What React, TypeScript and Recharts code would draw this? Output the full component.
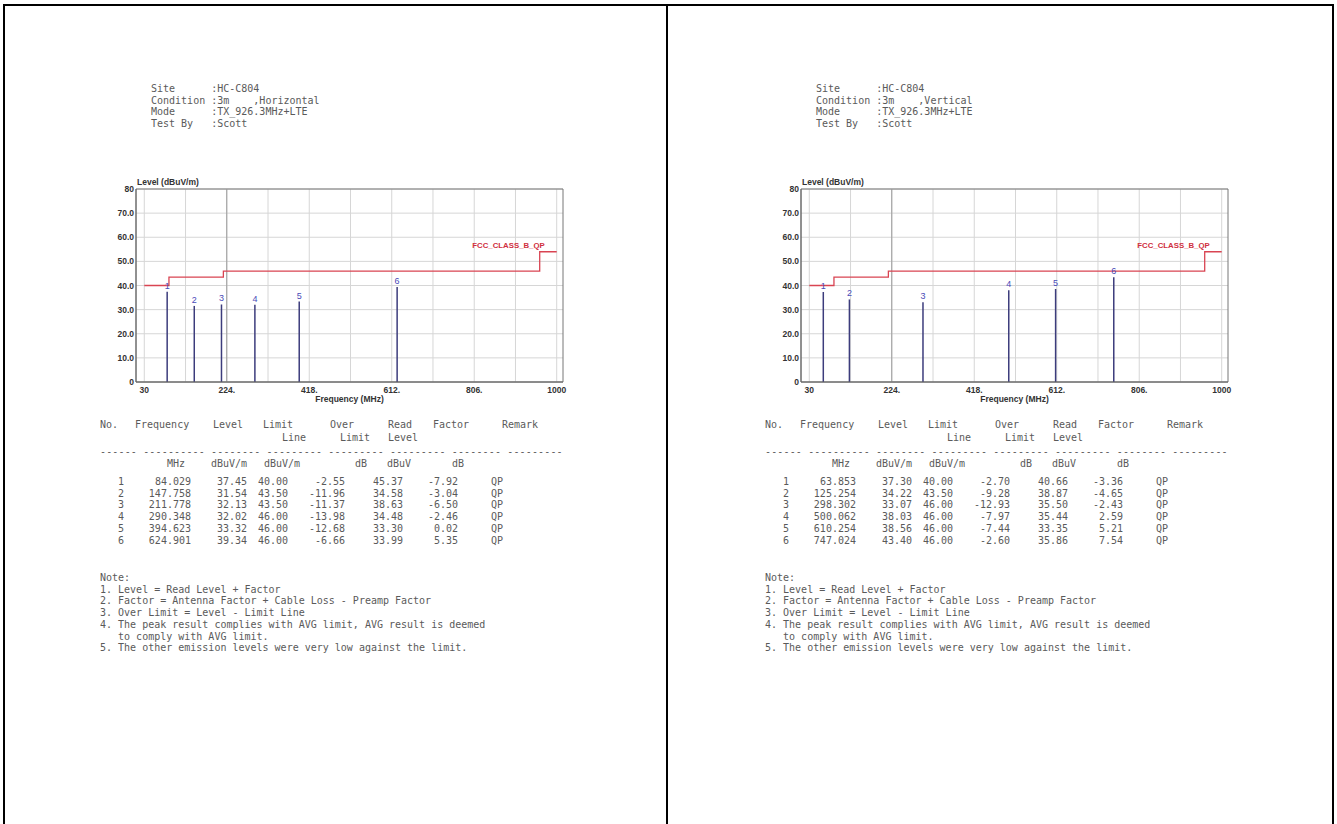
import React from 'react';
import {
  ComposedChart,
  XAxis,
  YAxis,
  CartesianGrid,
  Bar,
  Line,
  LabelList,
  ReferenceLine,
  ReferenceArea,
  ReferenceDot,
} from 'recharts';

// ---------- data: Horizontal ----------
const hCondition = 'Horizontal';
const hFreq = [84.029, 147.758, 211.778, 290.348, 394.623, 624.901];
const hLevel = [37.45, 31.54, 32.13, 32.02, 33.32, 39.34];
const hLimit = [40.0, 43.5, 43.5, 46.0, 46.0, 46.0];
const hOver = [-2.55, -11.96, -11.37, -13.98, -12.68, -6.66];
const hRead = [45.37, 34.58, 38.63, 34.48, 33.3, 33.99];
const hFactor = [-7.92, -3.04, -6.5, -2.46, 0.02, 5.35];
const hRemark = ['QP', 'QP', 'QP', 'QP', 'QP', 'QP'];

// ---------- data: Vertical ----------
const vCondition = 'Vertical';
const vFreq = [63.853, 125.254, 298.302, 500.062, 610.254, 747.024];
const vLevel = [37.3, 34.22, 33.07, 38.03, 38.56, 43.4];
const vLimit = [40.0, 43.5, 46.0, 46.0, 46.0, 46.0];
const vOver = [-2.7, -9.28, -12.93, -7.97, -7.44, -2.6];
const vRead = [40.66, 38.87, 35.5, 35.44, 33.35, 35.86];
const vFactor = [-3.36, -4.65, -2.43, 2.59, 5.21, 7.54];
const vRemark = ['QP', 'QP', 'QP', 'QP', 'QP', 'QP'];

// ---------- limit line (FCC Class B QP) ----------
const limitFreq = [30, 88, 88, 216, 216, 960, 960, 1000];
const limitLevel = [40, 40, 43.5, 43.5, 46, 46, 54, 54];
const limitName = 'FCC_CLASS_B_QP';

// ---------- axes ----------
const xTicks = [30, 224, 418, 612, 806, 1000];
const gridX = [30, 127, 224, 321, 418, 515, 612, 709, 806, 903, 1000];
const yTicks = [0, 10, 20, 30, 40, 50, 60, 70, 80];
const X_MIN = 10.5;
const X_MAX = 1014.8;

// ---------- texts ----------
const headerLabels = ['Site', 'Condition', 'Mode', 'Test By'];
const siteName = 'HC-C804';
const distance = '3m';
const modeName = 'TX_926.3MHz+LTE';
const tester = 'Scott';
const notes = [
  'Note:',
  '1. Level = Read Level + Factor',
  '2. Factor = Antenna Factor + Cable Loss - Preamp Factor',
  '3. Over Limit = Level - Limit Line',
  '4. The peak result complies with AVG limit, AVG result is deemed',
  '   to comply with AVG limit.',
  '5. The other emission levels were very low against the limit.',
];

const MONO = "'DejaVu Sans Mono', 'Liberation Mono', monospace";
const SANS = "'Liberation Sans', Arial, sans-serif";
const TXT = '#5a5a5a';

const fmtX = (v: number) => (v === 30 || v === 1000 ? String(v) : `${v}.`);
const fmtY = (v: number) => (v === 0 || v === 80 ? String(v) : v.toFixed(1));

const tickStyle = { fontSize: 8.5, fontWeight: 'bold', fill: '#333', fontFamily: SANS };

function EmiChart({ freqs, levels }: { freqs: number[]; levels: number[] }) {
  const data = freqs.map((f, i) => ({ f, level: levels[i], no: String(i + 1) }));
  const limitData = limitFreq.map((f, i) => ({ f, limit: limitLevel[i] }));
  return (
    <ComposedChart
      width={480}
      height={240}
      data={data}
      margin={{ top: 19, right: 13, bottom: 0, left: 0 }}
    >
      <CartesianGrid stroke="#d6d6d6" horizontalValues={yTicks} verticalValues={gridX} />
      <ReferenceLine x={224} stroke="#9a9a9a" />
      <XAxis
        dataKey="f"
        type="number"
        domain={[X_MIN, X_MAX]}
        ticks={xTicks}
        interval={0}
        allowDataOverflow
        tickFormatter={fmtX}
        tickLine={false}
        tickSize={0}
        tickMargin={5}
        height={28}
        axisLine={{ stroke: '#666' }}
        tick={tickStyle}
        label={{
          value: 'Frequency (MHz)',
          position: 'insideBottom',
          offset: 8,
          style: { fontSize: 8.5, fontWeight: 'bold', fill: '#333', fontFamily: SANS },
        }}
      />
      <YAxis
        type="number"
        domain={[0, 80]}
        ticks={yTicks}
        interval={0}
        width={40}
        tickFormatter={fmtY}
        tickLine={false}
        tickSize={0}
        tickMargin={2}
        axisLine={{ stroke: '#666' }}
        tick={tickStyle}
        label={(p: any) => {
          const vb = p.viewBox || {};
          return (
            <text
              x={vb.x + vb.width + 1}
              y={vb.y - 4}
              fontSize={8.5}
              fontWeight="bold"
              fill="#333"
              fontFamily={SANS}
            >
              Level (dBuV/m)
            </text>
          );
        }}
      />
      <ReferenceArea x1={X_MIN} x2={X_MAX} y1={0} y2={80} fill="none" stroke="#777" />
      <Line
        data={limitData}
        dataKey="limit"
        type="linear"
        stroke="#d94452"
        strokeWidth={1.3}
        dot={false}
        isAnimationActive={false}
      />
      <Bar dataKey="level" barSize={1.5} fill="#3c3c7c" isAnimationActive={false}>
        <LabelList
          dataKey="no"
          position="top"
          offset={3}
          fill="#4a4ab8"
          fontSize={9}
          fontFamily={SANS}
        />
      </Bar>
      <ReferenceDot
        x={1000}
        y={54}
        r={0}
        fill="none"
        stroke="none"
        label={(p: any) => {
          const vb = p.viewBox || {};
          return (
            <text
              x={vb.x - 12}
              y={vb.y - 4}
              textAnchor="end"
              fontSize={7.8}
              fontWeight="bold"
              fill="#d03040"
              fontFamily={SANS}
            >
              {limitName}
            </text>
          );
        }}
      />
    </ComposedChart>
  );
}

function T({
  x,
  y,
  text,
  right,
  spacing,
}: {
  x: number;
  y: number;
  text: string;
  right?: boolean;
  spacing?: number;
}) {
  const base: React.CSSProperties = {
    position: 'absolute',
    top: y - 6,
    fontFamily: MONO,
    fontSize: 10,
    lineHeight: '12px',
    color: TXT,
    whiteSpace: 'pre',
    letterSpacing: spacing || 0,
  };
  if (right) return <div style={{ ...base, left: x - 120, width: 120, textAlign: 'right' }}>{text}</div>;
  return <div style={{ ...base, left: x }}>{text}</div>;
}

const fmt2 = (v: number) => v.toFixed(2);
const fmt3 = (v: number) => v.toFixed(3);

function Panel(props: {
  dx: number;
  condition: string;
  freq: number[];
  level: number[];
  limit: number[];
  over: number[];
  read: number[];
  factor: number[];
  remark: string[];
}) {
  const { dx, condition, freq, level, limit, over, read, factor, remark } = props;
  const headerValues = [siteName, `${distance}    ,${condition}`, modeName, tester];
  const headerY = [89, 100.5, 112, 123.5];
  const rowY = freq.map((_, i) => 482 + i * 11.7);
  return (
    <div style={{ position: 'absolute', left: dx, top: 0, width: 660, height: 824 }}>
      {headerLabels.map((h, i) => (
        <T key={'h' + i} x={151} y={headerY[i]} text={`${h.padEnd(10, ' ')}:${headerValues[i]}`} />
      ))}
      <div style={{ position: 'absolute', left: 96, top: 170 }}>
        <EmiChart freqs={freq} levels={level} />
      </div>
      {/* table header */}
      <T x={100} y={425} text="No." />
      <T x={135} y={425} text="Frequency" />
      <T x={213} y={425} text="Level" />
      <T x={263} y={425} text="Limit" />
      <T x={330} y={425} text="Over" />
      <T x={388} y={425} text="Read" />
      <T x={433} y={425} text="Factor" />
      <T x={502} y={425} text="Remark" />
      <T x={282} y={438} text="Line" />
      <T x={340} y={438} text="Limit" />
      <T x={388} y={438} text="Level" />
      <T
        x={100}
        y={452}
        spacing={0.15}
        text="------ ---------- -------- --------- --------- --------- -------- ---------"
      />
      <T x={167} y={464} text="MHz" />
      <T x={211} y={464} text="dBuV/m" />
      <T x={264} y={464} text="dBuV/m" />
      <T x={355} y={464} text="dB" />
      <T x={387} y={464} text="dBuV" />
      <T x={452} y={464} text="dB" />
      {freq.map((f, i) => (
        <React.Fragment key={'r' + i}>
          <T x={124} y={rowY[i]} right text={String(i + 1)} />
          <T x={191} y={rowY[i]} right text={fmt3(f)} />
          <T x={247} y={rowY[i]} right text={fmt2(level[i])} />
          <T x={288} y={rowY[i]} right text={fmt2(limit[i])} />
          <T x={345} y={rowY[i]} right text={fmt2(over[i])} />
          <T x={403} y={rowY[i]} right text={fmt2(read[i])} />
          <T x={458} y={rowY[i]} right text={fmt2(factor[i])} />
          <T x={491} y={rowY[i]} text={remark[i]} />
        </React.Fragment>
      ))}
      {notes.map((n, i) => (
        <T key={'n' + i} x={100} y={578 + i * 11.7} text={n} />
      ))}
    </div>
  );
}

export default function App() {
  return (
    <div
      style={{
        position: 'absolute',
        left: 0,
        top: 0,
        width: 1337,
        height: 824,
        overflow: 'hidden',
        background: '#fff',
      }}
    >
      <div
        style={{
          position: 'absolute',
          left: 3,
          top: 4,
          width: 1331,
          height: 900,
          border: '2px solid #000',
          borderBottom: 'none',
          boxSizing: 'border-box',
        }}
      />
      <div style={{ position: 'absolute', left: 666, top: 4, width: 2, height: 900, background: '#000' }} />
      <Panel
        dx={0}
        condition={hCondition}
        freq={hFreq}
        level={hLevel}
        limit={hLimit}
        over={hOver}
        read={hRead}
        factor={hFactor}
        remark={hRemark}
      />
      <Panel
        dx={665}
        condition={vCondition}
        freq={vFreq}
        level={vLevel}
        limit={vLimit}
        over={vOver}
        read={vRead}
        factor={vFactor}
        remark={vRemark}
      />
    </div>
  );
}
